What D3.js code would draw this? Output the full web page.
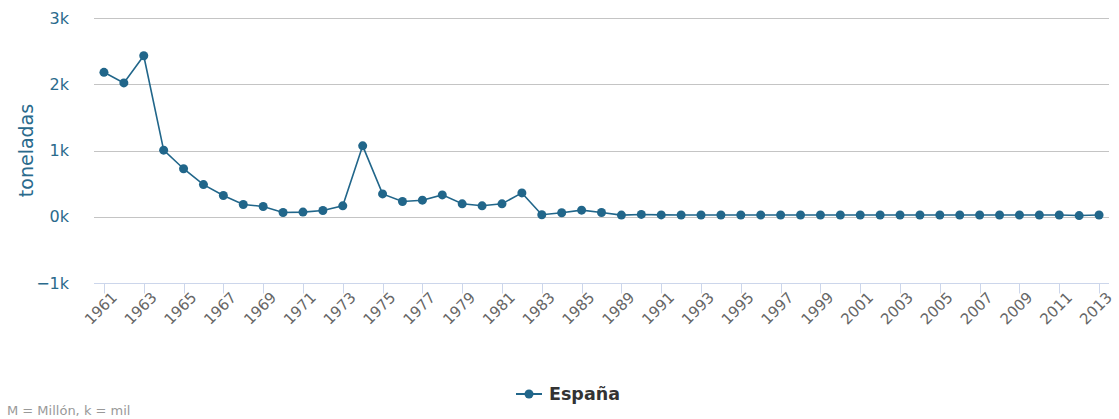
<!DOCTYPE html>
<html>
<head>
<meta charset="utf-8">
<script src="https://cdn.jsdelivr.net/npm/d3@7"></script>
<style>
  body { margin: 0; background: #fff; }
  svg { display: block; font-family: "DejaVu Sans", sans-serif; }
</style>
</head>
<body>
<div id="chart"></div>
<script>
// data (tonnes)
var years = [1961, 1962, 1963, 1964, 1965, 1966, 1967, 1968, 1969, 1970,
             1971, 1972, 1973, 1974, 1975, 1976, 1977, 1978, 1979, 1980,
             1981, 1982, 1983, 1984, 1985, 1986, 1989, 1990, 1991, 1992,
             1993, 1994, 1995, 1996, 1997, 1998, 1999, 2000, 2001, 2002,
             2003, 2004, 2005, 2006, 2007, 2008, 2009, 2010, 2011, 2012, 2013];
var values = [2180, 2020, 2430, 1005, 725, 485, 320, 185, 155, 65,
              70, 95, 165, 1070, 345, 230, 250, 330, 195, 165,
              195, 360, 30, 60, 100, 65, 25, 35, 28, 26,
              26, 26, 26, 26, 26, 26, 26, 26, 26, 26,
              26, 26, 26, 26, 26, 26, 26, 26, 26, 18, 26];
var yTicks = [-1000, 0, 1000, 2000, 3000];
var seriesName = "España";

var width = 1119, height = 419;
var m = { left: 94, right: 10, top: 18, bottom: 136 };
var color = "#21668a";

var svg = d3.select("#chart").append("svg")
	.attr("width", width)
	.attr("height", height);

var x = d3.scalePoint()
	.domain(years)
	.range([m.left, width - m.right])
	.padding(0.5);

var y = d3.scaleLinear()
	.domain([-1000, 3000])
	.range([height - m.bottom, m.top]);

// gridlines
svg.append("g").selectAll("line")
	.data(yTicks.filter(function(d) { return d !== -1000; }))
	.enter().append("line")
	.attr("x1", m.left)
	.attr("x2", width - m.right)
	.attr("y1", function(d) { return Math.round(y(d)) + 0.5; })
	.attr("y2", function(d) { return Math.round(y(d)) + 0.5; })
	.attr("stroke", "#c4c4c4")
	.attr("stroke-width", 1);

// y labels
svg.append("g").selectAll("text")
	.data(yTicks)
	.enter().append("text")
	.attr("x", 69)
	.attr("y", function(d) { return y(d); })
	.attr("dy", "0.35em")
	.attr("text-anchor", "end")
	.attr("fill", "#2a6a8c")
	.style("font-size", "16px")
	.text(function(d) { return (d === 0 ? "0" : d3.format("d")(d / 1000).replace("-", "\u2212")) + "k"; });

// y title
svg.append("text")
	.attr("transform", "translate(33," + ((m.top + height - m.bottom) / 2) + ") rotate(-90)")
	.attr("text-anchor", "middle")
	.attr("fill", "#2a6a8c")
	.style("font-size", "19px")
	.text("toneladas");

// x axis
var axisY = Math.round(y(-1000)) + 0.5;
svg.append("line")
	.attr("x1", m.left)
	.attr("x2", width - m.right)
	.attr("y1", axisY)
	.attr("y2", axisY)
	.attr("stroke", "#ccd6eb");

var labelled = years.filter(function(d, i) { return i % 2 === 0; });

svg.append("g").selectAll("line")
	.data(labelled)
	.enter().append("line")
	.attr("x1", function(d) { return Math.round(x(d)) + 0.5; })
	.attr("x2", function(d) { return Math.round(x(d)) + 0.5; })
	.attr("y1", axisY)
	.attr("y2", axisY + 10)
	.attr("stroke", "#ccd6eb");

svg.append("g").selectAll("text")
	.data(labelled)
	.enter().append("text")
	.attr("transform", function(d) { return "translate(" + (x(d) + 14) + "," + (axisY + 15) + ") rotate(-45)"; })
	.attr("text-anchor", "end")
	.attr("fill", "#666")
	.style("font-size", "15px")
	.text(function(d) { return d; });

// line + markers
var pts = years.map(function(d, i) { return { year: d, value: values[i] }; });

svg.append("path")
	.datum(pts)
	.attr("fill", "none")
	.attr("stroke", color)
	.attr("stroke-width", 1.6)
	.attr("d", d3.line()
		.x(function(d) { return x(d.year); })
		.y(function(d) { return y(d.value); }));

svg.append("g").selectAll("circle")
	.data(pts)
	.enter().append("circle")
	.attr("cx", function(d) { return x(d.year); })
	.attr("cy", function(d) { return y(d.value); })
	.attr("r", 4.5)
	.attr("fill", color);

// legend
var lg = svg.append("g").attr("transform", "translate(516,394)");
lg.append("line")
	.attr("x1", 0).attr("x2", 26)
	.attr("stroke", color).attr("stroke-width", 2);
lg.append("circle")
	.attr("cx", 13).attr("r", 4.5)
	.attr("fill", color);
lg.append("text")
	.attr("x", 33)
	.attr("dy", "0.36em")
	.attr("fill", "#333")
	.style("font-size", "17.5px")
	.style("font-weight", "bold")
	.text(seriesName);

// footer
svg.append("text")
	.attr("x", 7)
	.attr("y", 415)
	.attr("fill", "#999")
	.style("font-size", "13px")
	.text("M = Millón, k = mil");
</script>
</body>
</html>
